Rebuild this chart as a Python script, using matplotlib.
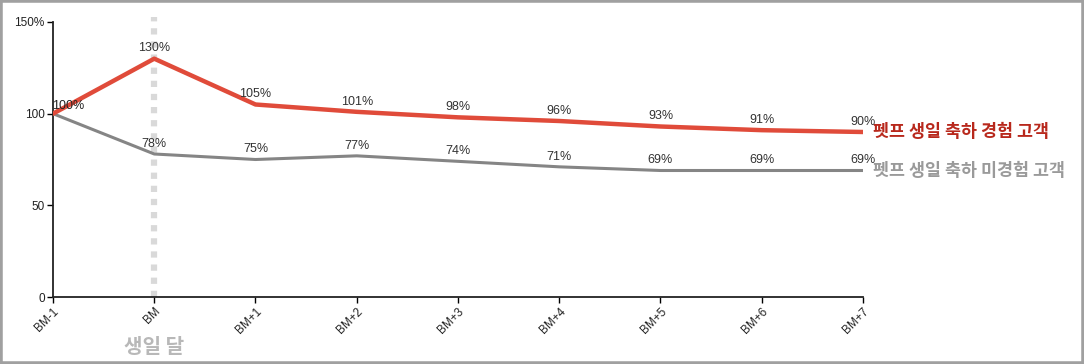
import matplotlib
matplotlib.use('Agg')
import matplotlib.pyplot as plt
from matplotlib.patches import Rectangle

plt.rcParams['font.family'] = ['Liberation Sans', 'Noto Sans CJK KR', 'DejaVu Sans']

# data
months = ['BM-1', 'BM', 'BM+1', 'BM+2', 'BM+3', 'BM+4', 'BM+5', 'BM+6', 'BM+7']
celebrated = [100, 130, 105, 101, 98, 96, 93, 91, 90]
not_celebrated = [100, 78, 75, 77, 74, 71, 69, 69, 69]
yticks = [0, 50, 100, 150]
yticklabels = ['0', '50', '100', '150%']
label_red = '펫프 생일 축하 경험 고객'
label_gray = '펫프 생일 축하 미경험 고객'

kr = ['Noto Sans CJK KR', 'DejaVu Sans']

fig = plt.figure(figsize=(10.84, 3.64), dpi=100)
ax = fig.add_axes([53 / 1084, 67 / 364, 810 / 1084, 275 / 364])

x = list(range(len(months)))
# dotted marker line for the birthday month, a bit above the plot area
ax.plot([1, 1], [0, 153], color='#d9d9d9', lw=4.5, ls=(0, (1.0, 1.1)),
        zorder=0, clip_on=False, solid_capstyle='butt')
ax.plot(x, not_celebrated, color='#858585', lw=2.2, zorder=2)
ax.plot(x, celebrated, color='#e04b3a', lw=3.2, zorder=3)

for i, v in enumerate(celebrated):
    if i == 0:
        ax.annotate(f'{v}%', (i, v), xytext=(-1, 1), textcoords='offset points',
                    ha='left', va='bottom', fontsize=9, color='#222222')
    else:
        ax.annotate(f'{v}%', (i, v), xytext=(0, 3), textcoords='offset points',
                    ha='center', va='bottom', fontsize=9, color='#333333')
for i, v in enumerate(not_celebrated):
    if i == 0:
        continue
    ax.annotate(f'{v}%', (i, v), xytext=(0, 3), textcoords='offset points',
                ha='center', va='bottom', fontsize=9, color='#333333')

ax.set_xlim(0, len(months) - 1)
ax.set_ylim(0, 150)
ax.set_xticks(x)
ax.set_xticklabels(months, rotation=45, ha='right', rotation_mode='anchor',
                   fontsize=8.5, color='#222222')
ax.set_yticks(yticks)
ax.set_yticklabels(yticklabels, fontsize=8.5, color='#222222')
ax.tick_params(length=4, width=1, pad=2)
for s in ['top', 'right']:
    ax.spines[s].set_visible(False)
for s in ['left', 'bottom']:
    ax.spines[s].set_linewidth(1.3)
    ax.spines[s].set_color('#222222')

ax.annotate(label_red, (len(months) - 1, celebrated[-1]), xytext=(7, 0),
            textcoords='offset points', ha='left', va='center', fontsize=12.5,
            fontweight='bold', color='#b8281c', annotation_clip=False, family=kr)
ax.annotate(label_gray, (len(months) - 1, not_celebrated[-1]), xytext=(7, 0),
            textcoords='offset points', ha='left', va='center', fontsize=12.5,
            fontweight='bold', color='#9a9a9a', annotation_clip=False, family=kr)
ax.text(1, -0.18, '생일 달', transform=ax.get_xaxis_transform(), ha='center',
        va='center', fontsize=14.5, fontweight='bold', color='#b8b8b8', family=kr)

fig.patches.append(Rectangle((0, 0), 1, 1, transform=fig.transFigure, fill=False,
                             edgecolor='#a0a0a0', lw=4))

fig.savefig('out.png', dpi=100)
